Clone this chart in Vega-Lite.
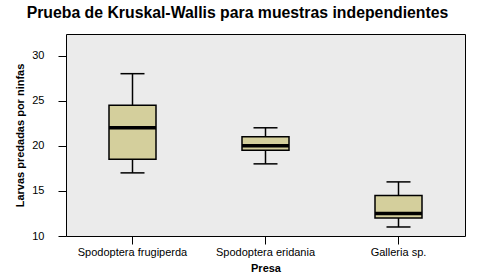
{
  "$schema": "https://vega.github.io/schema/vega-lite/v6.json",
  "width": 399,
  "height": 202,
  "autosize": {"type": "none"},
  "padding": {"left": 66, "top": 34, "right": 14, "bottom": 44},
  "background": "#ffffff",
  "title": {
    "text": "Prueba de Kruskal-Wallis para muestras independientes",
    "font": "Liberation Sans",
    "fontSize": 15.8,
    "fontWeight": "bold",
    "color": "#000000",
    "anchor": "middle",
    "dx": -28,
    "offset": 12
  },
  "config": {
    "view": {"stroke": "#000000", "strokeWidth": 1, "fill": "#ebebeb"},
    "axis": {
      "labelFont": "Liberation Sans",
      "titleFont": "Liberation Sans",
      "labelFontSize": 11,
      "titleFontSize": 11,
      "labelColor": "#000000",
      "titleColor": "#000000",
      "tickColor": "#000000",
      "domain": false,
      "grid": false,
      "tickSize": 8
    }
  },
  "data": {
    "values": [
      {"presa": "Spodoptera frugiperda", "lower": 17, "q1": 18.5, "median": 22, "q3": 24.5, "upper": 28},
      {"presa": "Spodoptera eridania", "lower": 18, "q1": 19.5, "median": 20, "q3": 21, "upper": 22},
      {"presa": "Galleria sp.", "lower": 11, "q1": 12, "median": 12.5, "q3": 14.5, "upper": 16}
    ]
  },
  "encoding": {
    "x": {
      "field": "presa",
      "type": "nominal",
      "sort": null,
      "scale": {"paddingInner": 0, "paddingOuter": 0},
      "axis": {"title": "Presa", "labelAngle": 0, "labelPadding": 2, "titleFontWeight": "bold", "titlePadding": 5}
    }
  },
  "layer": [
    {
      "mark": {"type": "rule", "color": "#000000", "strokeWidth": 1.5},
      "encoding": {
        "y": {
          "field": "lower",
          "type": "quantitative",
          "scale": {"domain": [10, 32.4], "nice": false, "zero": false},
          "axis": {"title": "Larvas predadas por ninfas", "values": [10, 15, 20, 25, 30], "labelPadding": 14, "titleFontWeight": "bold", "titleX": -41, "titleY": 101}
        },
        "y2": {"field": "upper"}
      }
    },
    {
      "mark": {"type": "tick", "color": "#000000", "opacity": 1, "thickness": 1.5, "size": 24},
      "encoding": {"y": {"field": "lower", "type": "quantitative"}}
    },
    {
      "mark": {"type": "tick", "color": "#000000", "opacity": 1, "thickness": 1.5, "size": 24},
      "encoding": {"y": {"field": "upper", "type": "quantitative"}}
    },
    {
      "mark": {"type": "bar", "size": 47, "fill": "#d4cf9c", "opacity": 1, "stroke": "#000000", "strokeWidth": 1.5},
      "encoding": {
        "y": {"field": "q1", "type": "quantitative"},
        "y2": {"field": "q3"}
      }
    },
    {
      "mark": {"type": "tick", "color": "#000000", "opacity": 1, "thickness": 3.5, "size": 47},
      "encoding": {"y": {"field": "median", "type": "quantitative"}}
    }
  ]
}
